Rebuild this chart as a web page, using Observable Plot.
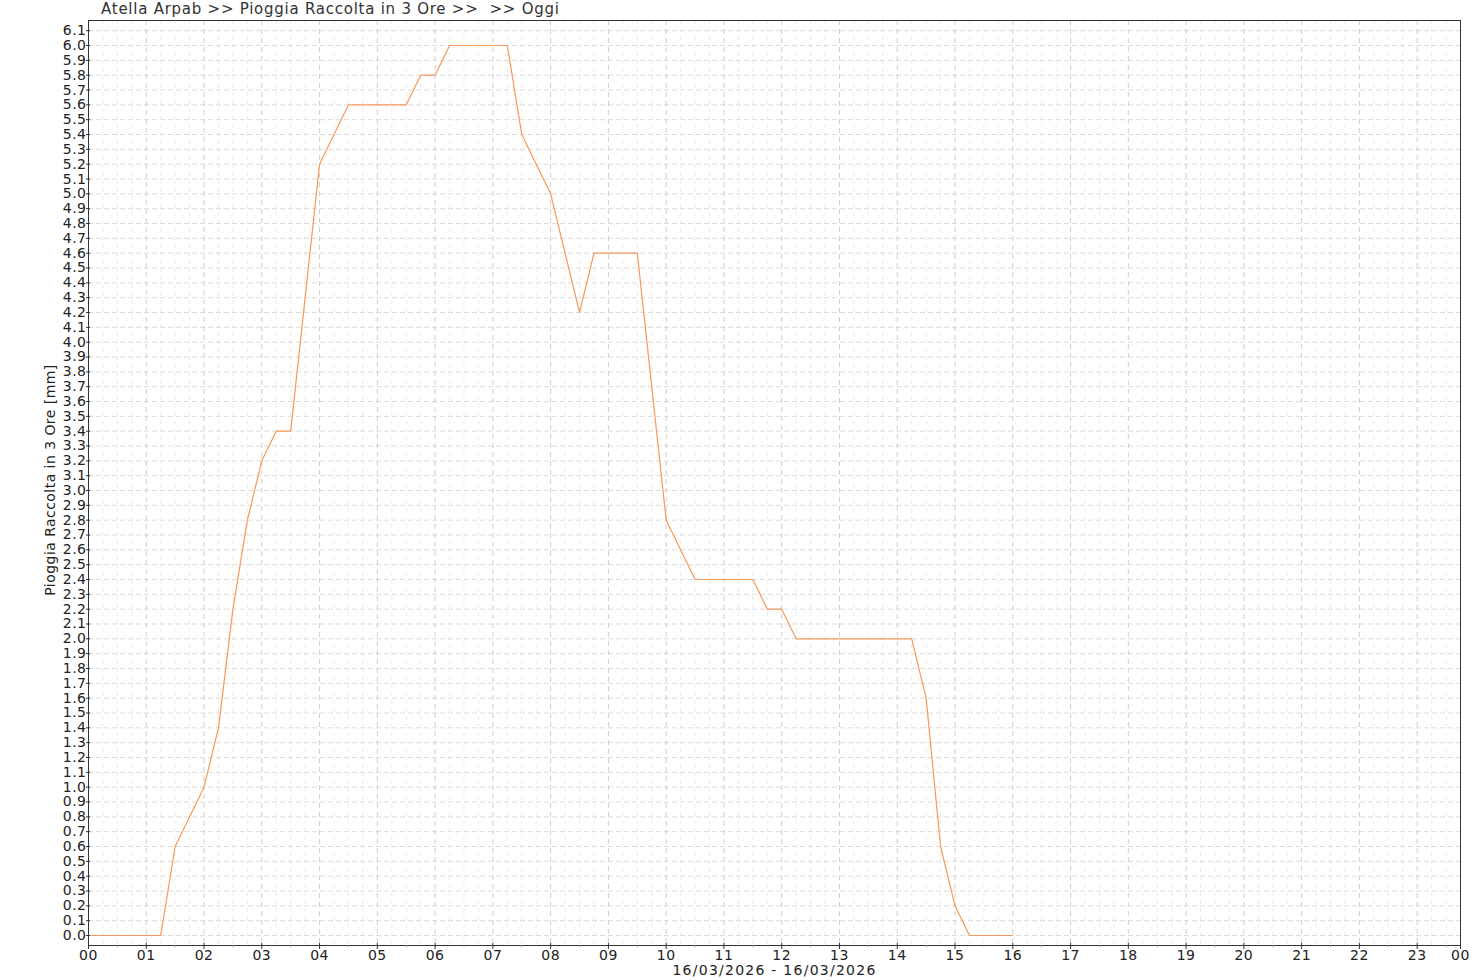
<!DOCTYPE html>
<html>
<head>
<meta charset="utf-8">
<script src="https://cdn.jsdelivr.net/npm/d3@7"></script>
<script src="https://cdn.jsdelivr.net/npm/@observablehq/plot@0.6"></script>
<style>
  html, body { margin: 0; padding: 0; background: #fff; }
  #title { height: 20px; font: 15px "DejaVu Sans", sans-serif; color: #333; padding-left: 101px; line-height: 18px; white-space: pre; letter-spacing: 0.75px; }
  svg { display: block; }
  svg text { letter-spacing: 0.5px; }
</style>
</head>
<body>
<div id="title">Atella Arpab &gt;&gt; Pioggia Raccolta in 3 Ore &gt;&gt;  &gt;&gt; Oggi</div>
<div id="chart"></div>
<script>
// Data: time of day (hours) and rain collected in 3 hours (mm)
const hours  = [0, 1.25, 1.5, 2, 2.25, 2.5, 2.75, 3, 3.25, 3.5, 4, 4.5, 5.5, 5.75, 6, 6.25, 7.25, 7.5, 8, 8.5, 8.75, 9.5, 10, 10.5, 11.5, 11.75, 12, 12.25, 14.25, 14.5, 14.75, 15, 15.25, 16];
const values = [0, 0, 0.6, 1.0, 1.4, 2.2, 2.8, 3.2, 3.4, 3.4, 5.2, 5.6, 5.6, 5.8, 5.8, 6.0, 6.0, 5.4, 5.0, 4.2, 4.6, 4.6, 2.8, 2.4, 2.4, 2.2, 2.2, 2.0, 2.0, 1.6, 0.6, 0.2, 0, 0];

const xTickValues = [0,1,2,3,4,5,6,7,8,9,10,11,12,13,14,15,16,17,18,19,20,21,22,23,23.75];
const xTickLabels = ["00","01","02","03","04","05","06","07","08","09","10","11","12","13","14","15","16","17","18","19","20","21","22","23","00"];
const hourGrid = xTickValues.slice(0, 24);
const quarterGrid = d3.range(0, 96).map(i => i / 4).filter(h => h % 1 !== 0);
const halfTicks = d3.range(0, 24).map(h => h + 0.5).filter(h => h < 23.75);
const yTicks = d3.range(0, 62).map(i => i / 10);

const xLabel = "16/03/2026 - 16/03/2026";
const yLabel = "Pioggia Raccolta in 3 Ore [mm]";

const data = hours.map((h, i) => ({h, v: values[i]}));
const labelOf = new Map(xTickValues.map((t, i) => [t, xTickLabels[i]]));

const chart = Plot.plot({
  width: 1480,
  height: 960,
  marginTop: 0,
  marginLeft: 88,
  marginRight: 20,
  marginBottom: 35,
  style: {fontFamily: "DejaVu Sans, sans-serif", fontSize: "14px", color: "#222", background: "#fff"},
  x: {domain: [0, 23.75], axis: null},
  y: {domain: [-10 / 148.33, 915 / 148.33], axis: null},
  marks: [
    Plot.ruleX(quarterGrid, {stroke: "#ececec", strokeDasharray: "4,4"}),
    Plot.ruleY(yTicks, {stroke: "#dcdcdc", strokeDasharray: "5,3"}),
    Plot.ruleX(hourGrid, {stroke: "#cfcfcf", strokeDasharray: "5,4"}),
    Plot.line(data, {x: "h", y: "v", stroke: "#f5995c", strokeWidth: 1.2}),
    Plot.frame({stroke: "#333", strokeWidth: 1}),
    Plot.axisY({ticks: yTicks, tickSize: 2, tickPadding: 0, tickFormat: d => d.toFixed(1), label: null, stroke: "#333", fill: "#222", fontSize: 14}),
    Plot.axisY({ticks: yTicks, tickSize: -2, tickFormat: () => "", label: null, stroke: "#333"}),
    Plot.axisX({ticks: xTickValues, tickSize: 4, tickPadding: 1, tickFormat: d => labelOf.get(d), label: null, stroke: "#333", fill: "#222", fontSize: 14}),
    Plot.axisX({ticks: xTickValues, tickSize: -2, tickFormat: () => "", label: null, stroke: "#333"}),
    Plot.axisX({ticks: halfTicks, tickSize: 2, tickFormat: () => "", label: null, stroke: "#999"}),
    Plot.text([xLabel], {frameAnchor: "bottom", dy: 25, fill: "#222", fontSize: 14, lineAnchor: "middle", textAnchor: "middle"}),
    Plot.text([yLabel], {frameAnchor: "left", rotate: -90, dx: -38, dy: -3, fill: "#222", fontSize: 14, lineAnchor: "middle", textAnchor: "middle"})
  ]
});
d3.select(chart).selectAll("text")
  .filter(function() { return this.textContent === xLabel; })
  .style("letter-spacing", "1.25px");
d3.select(chart).selectAll("text")
  .filter(function() { return this.textContent === yLabel; })
  .style("letter-spacing", "0.45px");
document.getElementById("chart").appendChild(chart);
</script>
</body>
</html>
